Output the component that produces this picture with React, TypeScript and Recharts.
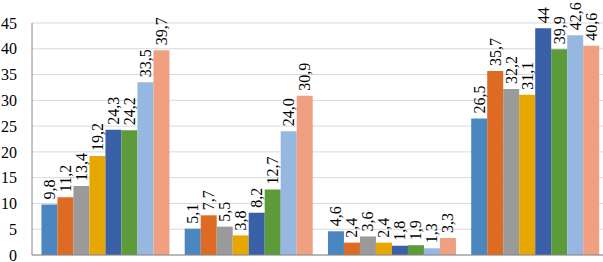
import React from 'react';
import { BarChart, Bar, XAxis, YAxis, CartesianGrid, LabelList } from 'recharts';

const groups = ['A', 'B', 'C', 'D'];

// values as printed on the chart (comma decimals)
const s1 = ['9,8', '5,1', '4,6', '26,5'];
const s2 = ['11,2', '7,7', '2,4', '35,7'];
const s3 = ['13,4', '5,5', '3,6', '32,2'];
const s4 = ['19,2', '3,8', '2,4', '31,1'];
const s5 = ['24,3', '8,2', '1,8', '44'];
const s6 = ['24,2', '12,7', '1,9', '39,9'];
const s7 = ['33,5', '24,0', '1,3', '42,6'];
const s8 = ['39,7', '30,9', '3,3', '40,6'];

const series = [s1, s2, s3, s4, s5, s6, s7, s8];
const COLORS = ['#4A86C0', '#DE6B23', '#9A9A9A', '#E6A800', '#3A61A8', '#5C9A3A', '#96B8E0', '#F0A080'];
const yTicks = [0, 5, 10, 15, 20, 25, 30, 35, 40, 45];
const FONT = 'Liberation Serif, DejaVu Serif, serif';

const data = groups.map((g, i) => {
  const row: Record<string, any> = { name: g };
  series.forEach((s, k) => {
    row[`v${k}`] = parseFloat(s[i].replace(',', '.'));
    row[`t${k}`] = s[i];
  });
  return row;
});

const RotLabel = (props: any) => {
  const { x, y, width, value } = props;
  const cx = x + width / 2;
  const cy = y - 5;
  return (
    <text
      x={cx}
      y={cy}
      transform={`rotate(-90 ${cx} ${cy})`}
      textAnchor="start"
      dominantBaseline="central"
      fontFamily={FONT}
      fontSize={16}
      fill="#000"
    >
      {value}
    </text>
  );
};

export default function App() {
  return (
    <div style={{ position: 'absolute', left: 0, top: 0, background: '#fff', fontFamily: FONT }}>
      <BarChart
        width={605}
        height={262}
        data={data}
        margin={{ top: 23, right: 0, bottom: 6, left: 0 }}
        barCategoryGap="6.6%"
        barGap={0}
      >
        <CartesianGrid vertical={false} stroke="#D9D9D9" />
        <XAxis dataKey="name" tick={false} tickLine={false} height={1} stroke="#868686" />
        <YAxis
          width={32}
          domain={[0, 45]}
          ticks={yTicks}
          interval={0}
          tickLine={false}
          tickSize={0}
          tickMargin={15}
          stroke="#868686"
          fontFamily={FONT}
          fontSize={16}
          tick={{ fill: '#000' }}
        />
        {series.map((_, k) => (
          <Bar key={k} dataKey={`v${k}`} fill={COLORS[k]} isAnimationActive={false}>
            <LabelList dataKey={`t${k}`} content={RotLabel} />
          </Bar>
        ))}
      </BarChart>
    </div>
  );
}
